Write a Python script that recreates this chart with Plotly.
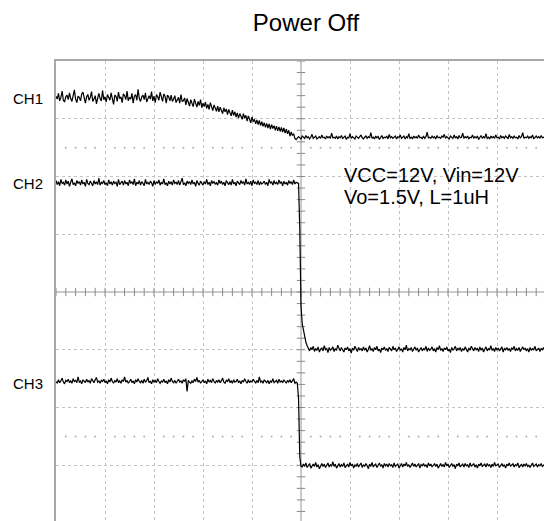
import plotly.graph_objects as go

# Oscilloscope samples (screen divisions), one sample every 0.025 div.
sample_step = 0.025

# CH1: flat, slow decay, flat
ch1_start_times = [0.0, 2.3, 4.9]
ch1_segments = [
    [3.39,3.34,3.44,3.31,3.37,3.48,3.32,3.29,3.38,3.41,
     3.33,3.45,3.35,3.30,3.40,3.50,3.34,3.28,3.39,3.37,
     3.31,3.43,3.46,3.33,3.27,3.38,3.42,3.32,3.37,3.47,
     3.30,3.34,3.40,3.26,3.39,3.44,3.35,3.31,3.49,3.33,
     3.38,3.29,3.42,3.37,3.32,3.45,3.34,3.25,3.41,3.39,
     3.30,3.46,3.35,3.38,3.28,3.43,3.40,3.33,3.48,3.31,
     3.37,3.34,3.44,3.27,3.39,3.42,3.32,3.51,3.35,3.30,
     3.38,3.41,3.33,3.45,3.29,3.37,3.40,3.34,3.47,3.31,
     3.39,3.28,3.42,3.38,3.32,3.46,3.35,3.30,3.43,3.39,
     3.27,3.41],
    [3.38,3.31,3.41,3.30, 3.34,3.40,3.28,3.33, 3.37,3.27,3.42,3.30,
     3.31,3.36,3.24,3.35, 3.30,3.22,3.33,3.28, 3.21,3.34,3.27,3.20,
     3.30,3.23,3.33,3.19, 3.27,3.21,3.29,3.18, 3.25,3.16,3.28,3.20,
     3.14,3.24,3.19,3.13, 3.22,3.12,3.20,3.15, 3.09,3.19,3.12,3.17,
     3.07,3.16,3.10,3.05, 3.15,3.06,3.12,3.03, 3.10,3.01,3.09,3.04,
     2.99,3.09,3.01,3.06, 2.96,3.05,2.98,2.93, 3.03,2.95,2.99,2.91,
     2.98,2.90,2.97,2.88, 2.95,2.87,2.93,2.85, 2.92,2.84,2.91,2.82,
     2.90,2.83,2.88,2.80, 2.87,2.79,2.86,2.78, 2.85,2.77,2.84,2.75,
     2.82,2.74,2.80,2.70, 2.77,2.71,2.74,2.66],
    [2.64,2.66,2.69,2.67,2.65,2.70,2.68,2.66,2.71,2.67,
     2.69,2.65,2.68,2.73,2.66,2.68,2.70,2.65,2.67,2.69,
     2.66,2.72,2.67,2.68,2.65,2.70,2.67,2.69,2.66,2.75,
     2.67,2.68,2.66,2.70,2.65,2.69,2.67,2.71,2.66,2.68,
     2.70,2.64,2.68,2.67,2.74,2.66,2.69,2.67,2.65,2.70,
     2.68,2.66,2.69,2.72,2.67,2.65,2.68,2.70,2.66,2.69,
     2.67,2.76,2.66,2.68,2.65,2.70,2.67,2.69,2.64,2.68,
     2.71,2.66,2.68,2.67,2.70,2.65,2.73,2.67,2.69,2.66,
     2.68,2.70,2.65,2.69,2.67,2.72,2.66,2.68,2.70,2.65,
     2.69,2.67,2.74,2.66,2.68,2.65,2.70,2.67,2.69,2.66,
     2.72,2.67,2.68,2.65,2.70,2.66,2.69,2.77,2.67,2.68,
     2.66,2.70,2.67,2.69,2.65,2.71,2.67,2.68,2.66,2.70,
     2.68,2.73,2.66,2.69,2.67,2.65,2.70,2.68,2.66,2.72,
     2.67,2.69,2.65,2.71,2.67,2.68,2.75,2.66,2.69,2.67,
     2.70,2.65,2.68,2.67,2.72,2.66,2.69,2.67,2.70,2.64,
     2.68,2.71,2.66,2.69,2.67,2.74,2.66,2.68,2.65,2.70,
     2.67,2.69,2.66,2.72,2.67,2.68,2.65,2.71,2.67,2.69,
     2.66,2.70,2.68,2.65,2.73,2.67,2.69,2.66,2.70,2.67,
     2.68,2.65,2.71,2.67,2.69,2.76,2.66,2.68,2.67,2.70,
     2.66,2.69,2.67,2.72,2.65,2.68,2.70,2.67,2.69,2.66,
     2.71,2.67,2.68,2.66,2.70],
]

# CH2: flat, sharp fall with short exponential tail, flat
ch2_start_times = [0.0, 4.975, 5.175]
ch2_segments = [
    [1.93,1.86,1.91,1.84,1.95,1.88,1.90,1.85,1.94,1.87,
     1.92,1.83,1.90,1.96,1.86,1.89,1.84,1.93,1.88,1.91,
     1.85,1.94,1.87,1.90,1.83,1.95,1.88,1.86,1.92,1.89,
     1.84,1.93,1.87,1.91,1.86,1.97,1.85,1.90,1.88,1.93,
     1.86,1.89,1.84,1.94,1.87,1.91,1.85,1.92,1.88,1.90,
     1.83,1.95,1.86,1.89,1.92,1.85,1.93,1.87,1.90,1.84,
     1.94,1.88,1.91,1.86,1.96,1.84,1.90,1.87,1.93,1.85,
     1.91,1.88,1.84,1.95,1.87,1.90,1.86,1.92,1.89,1.83,
     1.93,1.86,1.91,1.88,1.94,1.85,1.90,1.87,1.96,1.86,
     1.89,1.84,1.92,1.87,1.91,1.85,1.94,1.88,1.90,1.86,
     1.93,1.85,1.90,1.97,1.86,1.89,1.84,1.92,1.88,1.91,
     1.86,1.94,1.87,1.90,1.83,1.93,1.88,1.85,1.92,1.89,
     1.85,1.91,1.87,1.95,1.86,1.90,1.84,1.93,1.88,1.91,
     1.87,1.89,1.85,1.94,1.88,1.92,1.86,1.90,1.84,1.93,
     1.88,1.86,1.91,1.85,1.95,1.87,1.90,1.84,1.92,1.89,
     1.86,1.93,1.88,1.91,1.85,1.96,1.87,1.90,1.86,1.92,
     1.84,1.94,1.88,1.90,1.86,1.93,1.85,1.91,1.87,1.89,
     1.92,1.86,1.90,1.84,1.95,1.88,1.91,1.85,1.93,1.87,
     1.90,1.86,1.94,1.88,1.91,1.84,1.92,1.87,1.90,1.85,
     1.93,1.88,1.91,1.86,1.94,1.87,1.90,1.89,1.88],
    [1.10,-0.25,-0.55,-0.68,-0.77,-0.87,-0.93,-0.97],
    [-1.02,-0.96,-1.00,-0.94,-1.03,-0.98,-1.01,-0.95,-1.04,-0.99,
     -0.97,-1.02,-0.93,-1.00,-0.98,-1.05,-0.96,-1.01,-0.99,-0.95,
     -1.03,-0.98,-1.01,-0.92,-0.99,-1.02,-0.96,-1.00,-1.04,-0.97,
     -1.00,-0.95,-1.02,-0.98,-1.06,-0.97,-1.01,-0.94,-0.99,-1.03,
     -0.96,-1.00,-0.98,-1.02,-0.95,-1.01,-0.97,-1.04,-0.99,-0.93,
     -1.01,-0.98,-1.03,-0.96,-1.00,-0.94,-1.02,-0.99,-1.05,-0.97,
     -1.00,-0.95,-1.01,-0.98,-1.03,-0.96,-0.99,-1.02,-0.94,-1.00,
     -0.97,-1.03,-0.99,-0.95,-1.01,-0.98,-1.04,-0.96,-1.00,-0.92,
     -1.02,-0.98,-1.00,-0.96,-1.03,-0.99,-0.95,-1.01,-0.97,-1.04,
     -0.99,-0.96,-1.02,-0.98,-1.00,-0.94,-1.03,-0.97,-1.01,-0.99,
     -0.95,-1.02,-0.98,-1.04,-0.96,-1.00,-0.93,-1.01,-0.98,-1.03,
     -0.97,-1.00,-0.95,-1.02,-0.99,-1.05,-0.96,-1.01,-0.98,-0.94,
     -1.02,-0.97,-1.00,-0.96,-1.03,-0.98,-1.01,-0.95,-0.99,-1.04,
     -0.97,-1.01,-0.94,-0.99,-1.02,-0.96,-1.00,-0.98,-1.03,-0.95,
     -1.01,-0.97,-1.04,-0.99,-0.95,-1.02,-0.98,-1.00,-0.93,-1.01,
     -0.98,-1.03,-0.96,-1.00,-0.97,-1.02,-0.99,-0.95,-1.04,-0.98,
     -1.00,-0.96,-1.01,-0.98,-1.03,-0.97,-0.99,-0.94,-1.02,-0.98,
     -1.01,-0.96,-1.03,-0.99,-0.95,-1.00,-0.97,-1.02,-0.98,-1.04,
     -0.96,-1.01,-0.98,-1.00,-0.94,-1.02,-0.99,-0.97,-1.03,-0.98,
     -1.00,-0.96,-1.02,-0.98],
]

# CH3: flat, sharp fall, flat
ch3_start_times = [0.0, 4.925, 5.025]
ch3_segments = [
    [-1.55,-1.58,-1.52,-1.57,-1.54,-1.49,-1.56,-1.59,-1.53,-1.55,
     -1.51,-1.57,-1.54,-1.58,-1.50,-1.55,-1.53,-1.57,-1.47,-1.56,
     -1.54,-1.59,-1.52,-1.55,-1.57,-1.51,-1.56,-1.53,-1.58,-1.50,
     -1.55,-1.57,-1.52,-1.48,-1.56,-1.54,-1.58,-1.53,-1.55,-1.51,
     -1.57,-1.54,-1.59,-1.52,-1.56,-1.49,-1.55,-1.58,-1.53,-1.56,
     -1.50,-1.57,-1.54,-1.58,-1.52,-1.55,-1.47,-1.56,-1.53,-1.58,
     -1.55,-1.51,-1.57,-1.54,-1.59,-1.52,-1.56,-1.50,-1.55,-1.57,
     -1.53,-1.58,-1.51,-1.56,-1.54,-1.48,-1.57,-1.55,-1.59,-1.52,
     -1.56,-1.53,-1.57,-1.50,-1.55,-1.58,-1.54,-1.56,-1.51,-1.57,
     -1.54,-1.59,-1.52,-1.56,-1.49,-1.55,-1.57,-1.53,-1.58,-1.54,
     -1.51,-1.56,-1.54,-1.58,-1.52,-1.55,-1.50,-1.72,-1.53,-1.56,
     -1.58,-1.54,-1.57,-1.51,-1.55,-1.48,-1.56,-1.53,-1.58,-1.55,
     -1.52,-1.57,-1.54,-1.59,-1.51,-1.56,-1.53,-1.57,-1.50,-1.55,
     -1.58,-1.53,-1.56,-1.52,-1.57,-1.54,-1.49,-1.56,-1.58,-1.53,
     -1.55,-1.50,-1.57,-1.54,-1.58,-1.52,-1.56,-1.55,-1.51,-1.57,
     -1.54,-1.59,-1.53,-1.56,-1.50,-1.55,-1.58,-1.52,-1.57,-1.54,
     -1.56,-1.51,-1.55,-1.58,-1.53,-1.57,-1.47,-1.56,-1.54,-1.58,
     -1.52,-1.55,-1.57,-1.53,-1.59,-1.54,-1.56,-1.50,-1.57,-1.55,
     -1.53,-1.58,-1.51,-1.56,-1.54,-1.57,-1.52,-1.55,-1.58,-1.53,
     -1.56,-1.52,-1.57,-1.54,-1.50,-1.58,-1.56],
    [-1.58,-1.85,-2.85,-3.02],
    [-3.03,-2.98,-3.02,-2.96,-3.04,-3.00,-2.97,-3.05,-3.01,-2.98,
     -3.02,-2.95,-3.03,-2.99,-3.06,-3.00,-2.97,-3.02,-2.98,-3.04,
     -3.00,-2.96,-3.03,-2.99,-3.01,-2.94,-3.02,-2.98,-3.05,-3.00,
     -2.97,-3.03,-2.99,-3.02,-2.96,-3.04,-3.00,-2.98,-3.03,-2.95,
     -3.01,-2.98,-3.05,-2.99,-3.02,-2.97,-3.03,-3.00,-2.96,-3.04,
     -2.99,-3.02,-2.97,-3.01,-3.06,-2.98,-3.02,-2.95,-3.03,-3.00,
     -2.98,-3.04,-3.00,-2.96,-3.02,-2.99,-3.05,-2.97,-3.01,-2.98,
     -3.03,-2.97,-3.01,-2.99,-3.04,-2.96,-3.02,-3.00,-2.98,-3.05,
     -3.00,-2.97,-3.03,-2.98,-3.01,-2.95,-3.02,-2.99,-3.04,-3.00,
     -2.96,-3.02,-2.98,-3.03,-3.00,-2.97,-3.05,-2.99,-3.01,-2.97,
     -3.02,-2.99,-3.04,-2.96,-3.01,-2.98,-3.03,-3.00,-2.97,-3.02,
     -2.98,-3.05,-3.00,-2.97,-3.02,-2.99,-3.03,-2.95,-3.01,-2.98,
     -3.04,-3.00,-2.97,-3.02,-2.99,-3.06,-2.98,-3.01,-2.96,-3.03,
     -3.00,-2.98,-3.03,-2.97,-3.01,-2.99,-3.04,-2.96,-3.02,-3.00,
     -2.97,-3.03,-2.99,-3.05,-2.98,-3.01,-2.96,-3.02,-3.00,-2.98,
     -3.03,-2.97,-3.01,-2.99,-3.04,-2.98,-3.02,-2.95,-3.01,-3.00,
     -2.98,-3.04,-3.00,-2.97,-3.02,-2.99,-3.05,-2.98,-3.01,-2.96,
     -3.02,-3.00,-2.97,-3.03,-2.99,-3.01,-2.96,-3.04,-3.00,-2.98,
     -3.03,-2.98,-3.01,-2.97,-3.02,-3.00,-3.04,-2.99,-2.96,-3.02,
     -3.00,-2.98,-3.03,-2.99,-3.01,-2.97,-3.02,-3.00,-2.98,-3.01],
]

channel_names = ["CH1", "CH2", "CH3"]
channel_label_levels = [3.35, 1.88, -1.58]
note_lines = ["VCC=12V, Vin=12V", "Vo=1.5V, L=1uH"]
note_levels = [2.03, 1.645]
title_text = "Power Off"

FONT = "Liberation Sans, Arial, sans-serif"
X_MAX = 488 / 49.0
Y_MIN = 4 - 460 / 57.75


def build_trace(starts, segments):
    xs, ys = [], []
    for t0, seg in zip(starts, segments):
        for i, v in enumerate(seg):
            xs.append(round(t0 + i * sample_step, 4))
            ys.append(v)
    return xs, ys


fig = go.Figure()

# graticule decoration: centre-line minor ticks and dot rows
minor_x = [round(i * 0.2, 2) for i in range(0, 51)]
minor_y = [round(-4 + i * 0.2, 2) for i in range(0, 41)]
dot_x = [v for v in minor_x if abs(v - round(v)) > 1e-6]

fig.add_trace(go.Scatter(x=minor_x, y=[0] * len(minor_x), mode="markers",
                         marker=dict(symbol="line-ns", size=6, line=dict(width=1, color="#8a8a8a")),
                         hoverinfo="skip", showlegend=False))
fig.add_trace(go.Scatter(x=[5] * len(minor_y), y=minor_y, mode="markers",
                         marker=dict(symbol="line-ew", size=6, line=dict(width=1, color="#8a8a8a")),
                         hoverinfo="skip", showlegend=False))
for lvl in [2.5, -2.5]:
    fig.add_trace(go.Scatter(x=dot_x, y=[lvl] * len(dot_x), mode="markers",
                             marker=dict(symbol="circle", size=2, color="#b0b0b0"),
                             hoverinfo="skip", showlegend=False))

for starts, segs in [(ch1_start_times, ch1_segments),
                     (ch2_start_times, ch2_segments),
                     (ch3_start_times, ch3_segments)]:
    xs, ys = build_trace(starts, segs)
    fig.add_trace(go.Scatter(x=xs, y=ys, mode="lines",
                             line=dict(color="black", width=1.2),
                             hoverinfo="skip", showlegend=False))

fig.add_shape(type="line", x0=5, x1=5, y0=Y_MIN, y1=4, xref="x", yref="y",
              line=dict(color="#9a9a9a", width=1), layer="below")
fig.add_shape(type="line", x0=0, x1=X_MAX, y0=0, y1=0, xref="x", yref="y",
              line=dict(color="#9a9a9a", width=1), layer="below")

for name, lvl in zip(channel_names, channel_label_levels):
    fig.add_annotation(x=-11 / 488, y=lvl, xref="paper", yref="y", text=name, showarrow=False,
                       xanchor="right", yanchor="middle",
                       font=dict(family=FONT, size=15, color="black"))

for line_text, lvl in zip(note_lines, note_levels):
    fig.add_annotation(x=5.83, y=lvl, xref="x", yref="y", text=line_text, showarrow=False,
                       xanchor="left", yanchor="middle",
                       font=dict(family=FONT, size=20, color="black"))

fig.update_layout(
    width=544, height=521,
    margin=dict(l=56, r=0, t=61, b=0),
    paper_bgcolor="white", plot_bgcolor="white",
    title=dict(text=title_text, x=306 / 544, xanchor="center", y=1 - 23 / 521, yanchor="middle",
               font=dict(family=FONT, size=24, color="black")),
    xaxis=dict(range=[0, X_MAX], tick0=0, dtick=1, showticklabels=False, ticks="",
               showgrid=True, gridcolor="#c4c4c4", griddash="dot", gridwidth=1,
               zeroline=False, showline=True, linecolor="#a8a8a8", linewidth=1.5, side="top"),
    yaxis=dict(range=[Y_MIN, 4], tick0=0, dtick=1, showticklabels=False, ticks="",
               showgrid=True, gridcolor="#c4c4c4", griddash="dot", gridwidth=1,
               zeroline=False, showline=True, linecolor="#a8a8a8", linewidth=1.5),
)

fig.write_html("out.html", config={"displayModeBar": False},
               post_script="document.body.style.margin='0';document.body.style.overflow='hidden';")
